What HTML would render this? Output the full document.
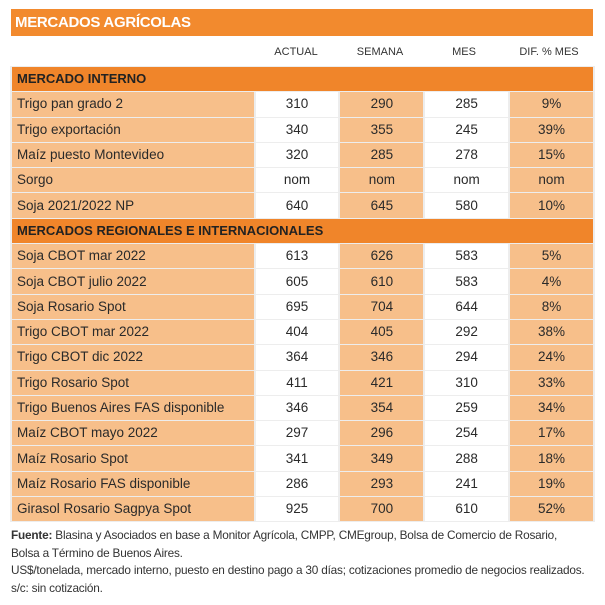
<!DOCTYPE html>
<html><head><meta charset="utf-8"><style>
body{margin:0;width:605px;height:605px;background:#fff;font-family:"Liberation Sans",sans-serif;color:#2a2a2a;position:relative;overflow:hidden}
.title{position:absolute;left:11px;top:9px;width:582px;height:27px;background:#f28a2e;color:#fff;font-weight:bold;font-size:15px;line-height:27px;padding-left:4px;box-sizing:border-box;letter-spacing:-0.3px}
.hdr{position:absolute;top:46px;font-size:11px;color:#333;text-align:center;width:84px}
table{position:absolute;left:10px;top:66px;border-collapse:separate;border-spacing:2px 1px;width:585px;background:#ededed}
td{height:24.3px;padding:0;font-size:13.5px;line-height:24px;text-align:center}
td.l{text-align:left;padding-left:5px;width:237px;background:#f7bf8a}
td.w{background:#fff;width:83px}
td.o{background:#f7bf8a;width:83px}
tr.sec td{background:#f0852a;font-weight:bold;text-align:left;padding-left:5px;color:#222;font-size:13px}
.foot{position:absolute;left:11px;top:527px;font-size:11.8px;line-height:17.5px;color:#333;letter-spacing:-0.2px}
</style></head><body>
<div class="title">MERCADOS AGRÍCOLAS</div>
<div class="hdr" style="left:254px">ACTUAL</div>
<div class="hdr" style="left:338px">SEMANA</div>
<div class="hdr" style="left:422px">MES</div>
<div class="hdr" style="left:507px">DIF. % MES</div>
<table>
<tr class="sec"><td colspan="5">MERCADO INTERNO</td></tr>
<tr><td class="l">Trigo pan grado 2</td><td class="w">310</td><td class="o">290</td><td class="w">285</td><td class="o">9%</td></tr>
<tr><td class="l">Trigo exportación</td><td class="w">340</td><td class="o">355</td><td class="w">245</td><td class="o">39%</td></tr>
<tr><td class="l">Maíz puesto Montevideo</td><td class="w">320</td><td class="o">285</td><td class="w">278</td><td class="o">15%</td></tr>
<tr><td class="l">Sorgo</td><td class="w">nom</td><td class="o">nom</td><td class="w">nom</td><td class="o">nom</td></tr>
<tr><td class="l">Soja 2021/2022 NP</td><td class="w">640</td><td class="o">645</td><td class="w">580</td><td class="o">10%</td></tr>
<tr class="sec"><td colspan="5">MERCADOS REGIONALES E INTERNACIONALES</td></tr>
<tr><td class="l">Soja CBOT mar 2022</td><td class="w">613</td><td class="o">626</td><td class="w">583</td><td class="o">5%</td></tr>
<tr><td class="l">Soja CBOT julio 2022</td><td class="w">605</td><td class="o">610</td><td class="w">583</td><td class="o">4%</td></tr>
<tr><td class="l">Soja Rosario Spot</td><td class="w">695</td><td class="o">704</td><td class="w">644</td><td class="o">8%</td></tr>
<tr><td class="l">Trigo CBOT mar 2022</td><td class="w">404</td><td class="o">405</td><td class="w">292</td><td class="o">38%</td></tr>
<tr><td class="l">Trigo CBOT dic 2022</td><td class="w">364</td><td class="o">346</td><td class="w">294</td><td class="o">24%</td></tr>
<tr><td class="l">Trigo Rosario Spot</td><td class="w">411</td><td class="o">421</td><td class="w">310</td><td class="o">33%</td></tr>
<tr><td class="l">Trigo Buenos Aires FAS disponible</td><td class="w">346</td><td class="o">354</td><td class="w">259</td><td class="o">34%</td></tr>
<tr><td class="l">Maíz CBOT mayo 2022</td><td class="w">297</td><td class="o">296</td><td class="w">254</td><td class="o">17%</td></tr>
<tr><td class="l">Maíz Rosario Spot</td><td class="w">341</td><td class="o">349</td><td class="w">288</td><td class="o">18%</td></tr>
<tr><td class="l">Maíz Rosario FAS disponible</td><td class="w">286</td><td class="o">293</td><td class="w">241</td><td class="o">19%</td></tr>
<tr><td class="l">Girasol Rosario Sagpya Spot</td><td class="w">925</td><td class="o">700</td><td class="w">610</td><td class="o">52%</td></tr>
</table>
<div class="foot"><b>Fuente:</b> Blasina y Asociados en base a Monitor Agrícola, CMPP, CMEgroup, Bolsa de Comercio de Rosario,<br>Bolsa a Término de Buenos Aires.<br>US$/tonelada, mercado interno, puesto en destino pago a 30 días; cotizaciones promedio de negocios realizados.<br>s/c: sin cotización.</div>
</body></html>
